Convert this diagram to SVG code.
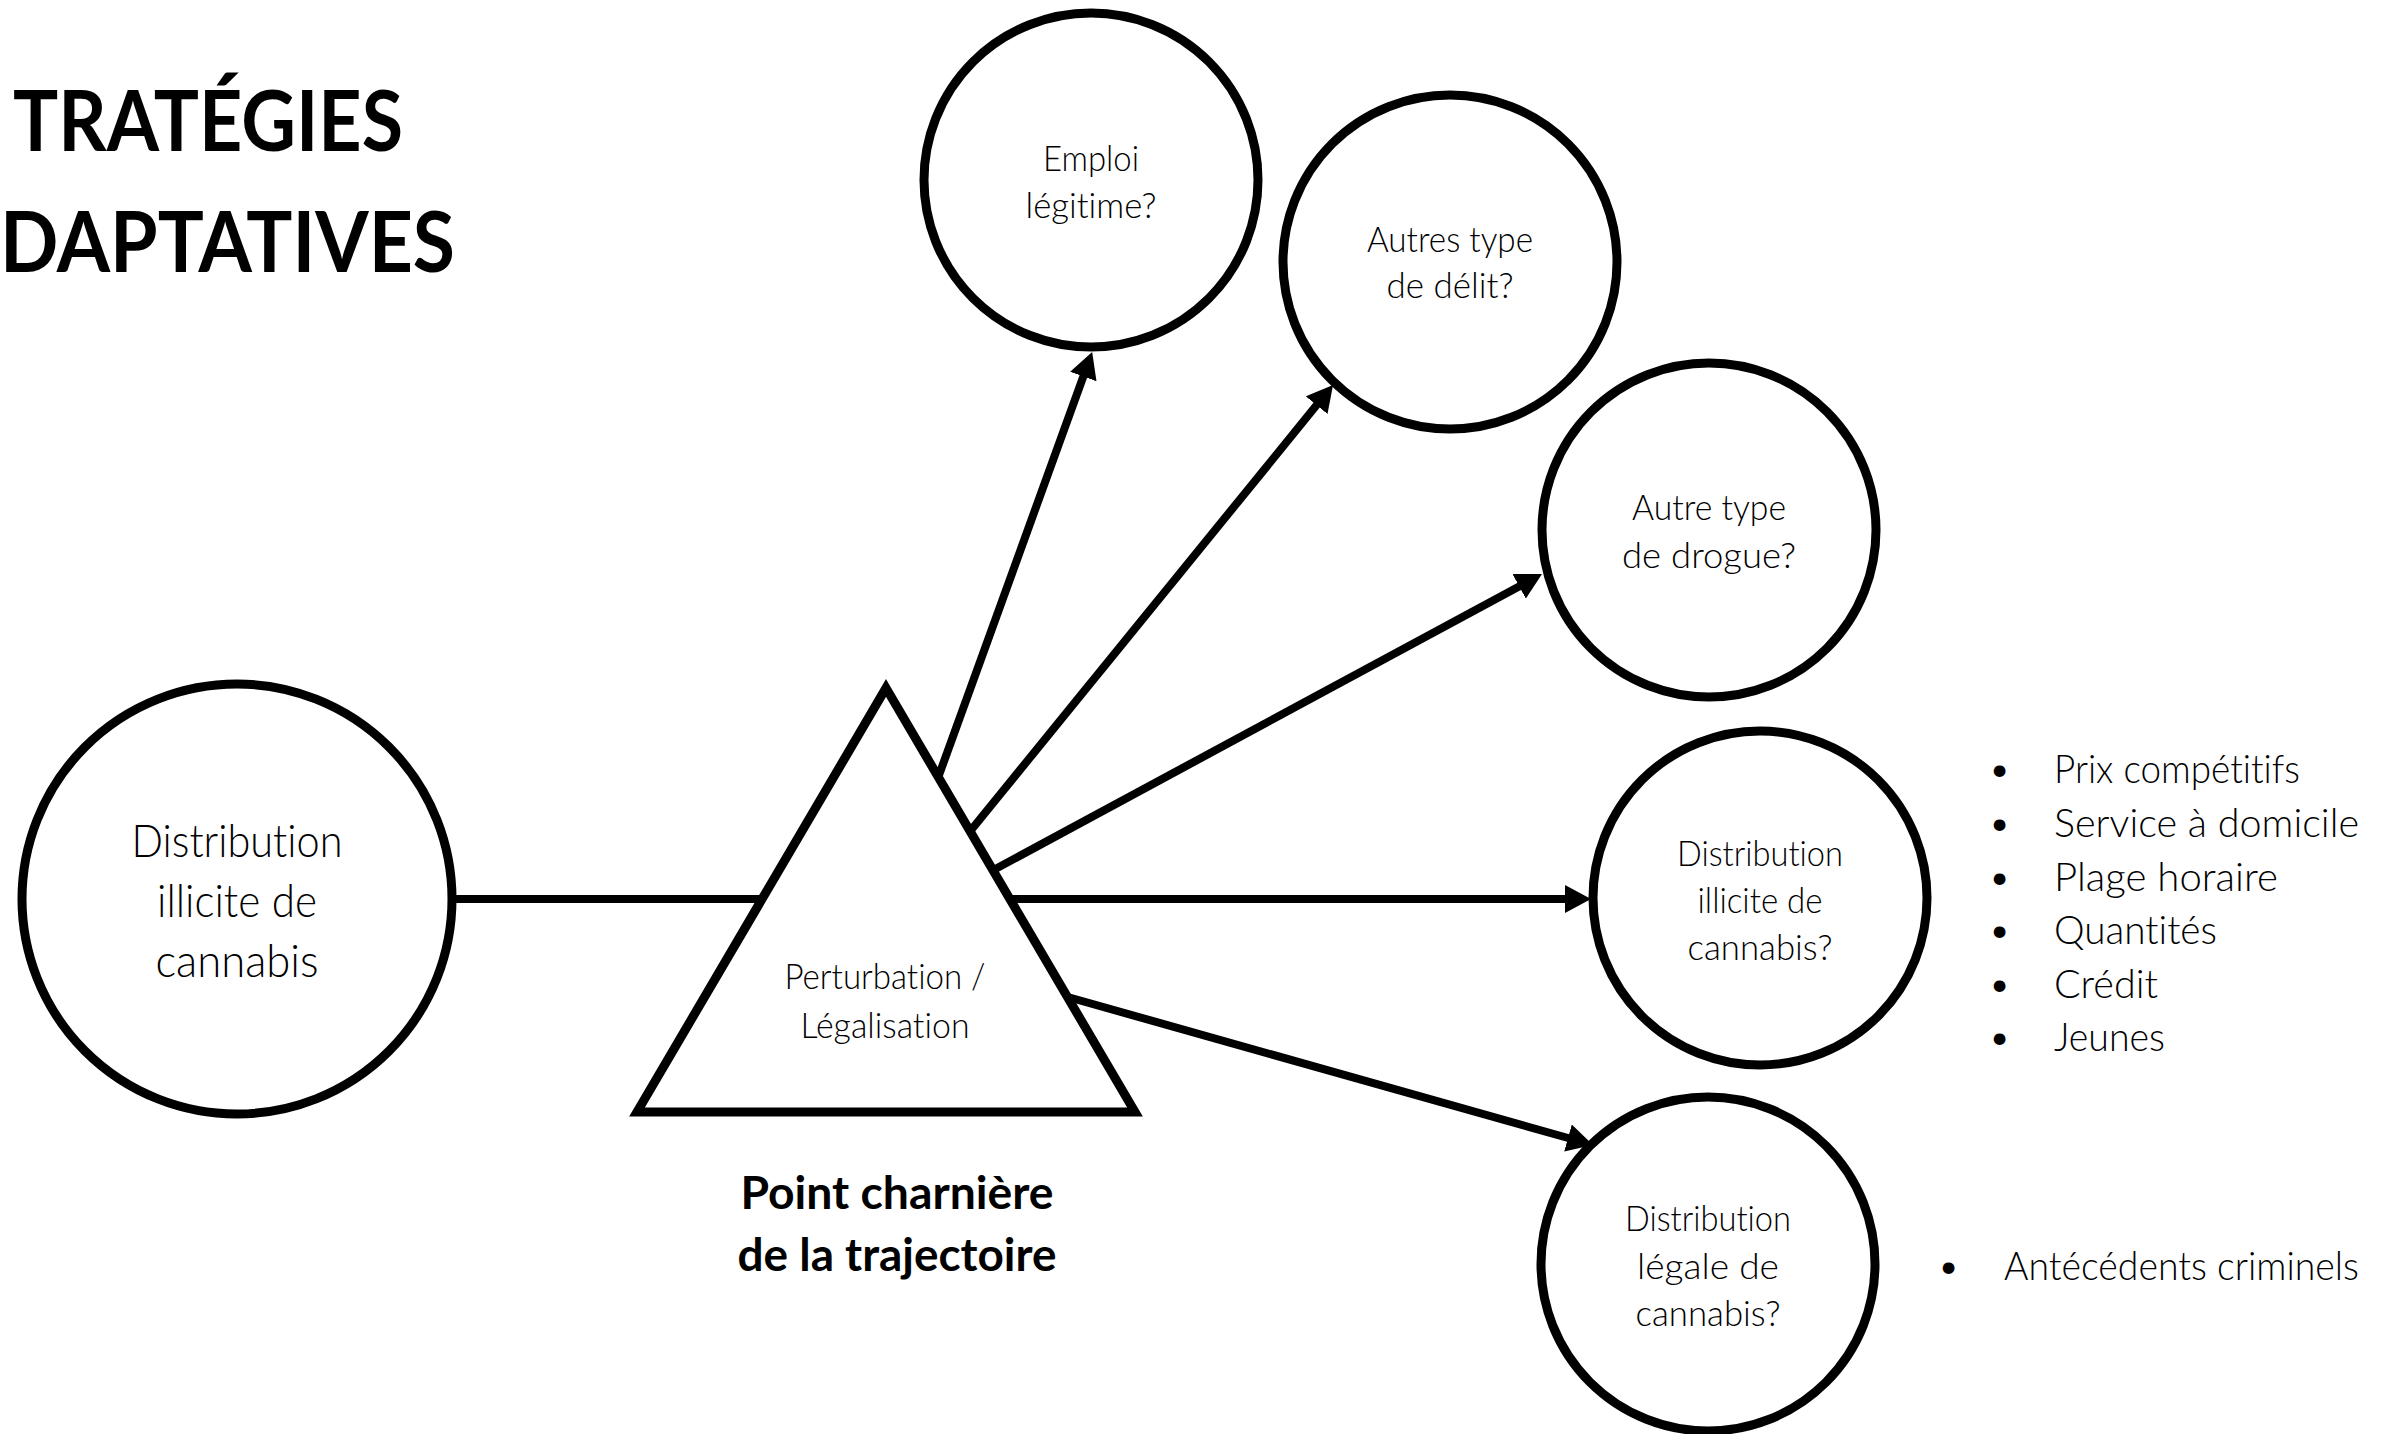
<svg xmlns="http://www.w3.org/2000/svg" width="2393" height="1434" viewBox="0 0 2393 1434">
<style>
.node{fill:#fff;stroke:#000;stroke-width:9}
.conn{stroke:#000;stroke-width:8;fill:none}
text{font-variant-ligatures:none}
.t{font-family:Lato,"Liberation Sans",sans-serif;font-weight:300;fill:#000;text-anchor:middle}
.c{font-size:36px}
.lc{font-size:46px}
.b{font-size:40px;text-anchor:start}
.h{font-family:Lato,"Liberation Sans",sans-serif;font-weight:700;fill:#000}
</style>
<defs>
<marker id="arr" markerUnits="userSpaceOnUse" markerWidth="26" markerHeight="28" refX="2" refY="14" orient="auto">
<path d="M0,0 L26,14 L0,28 z" fill="#000"/>
</marker>
</defs>
<rect width="2393" height="1434" fill="#fff"/>

<g id="title">
<text class="h" x="13" y="151" font-size="84" textLength="390" lengthAdjust="spacingAndGlyphs">TRATÉGIES</text>
<text class="h" x="0" y="272" font-size="84" textLength="455" lengthAdjust="spacingAndGlyphs">DAPTATIVES</text>
</g>

<g id="connectors">
<line class="conn" x1="430" y1="899" x2="790" y2="899"/>
<line class="conn" x1="930" y1="800" x2="1084" y2="374.6" marker-end="url(#arr)"/>
<line class="conn" x1="950" y1="856" x2="1317.9" y2="403.6" marker-end="url(#arr)"/>
<line class="conn" x1="975" y1="880" x2="1520.9" y2="585.4" marker-end="url(#arr)"/>
<line class="conn" x1="990" y1="899" x2="1567" y2="899" marker-end="url(#arr)"/>
<line class="conn" x1="1050" y1="992" x2="1569.9" y2="1138.5" marker-end="url(#arr)"/>
</g>

<g id="node-source">
<circle class="node" cx="237" cy="899" r="215"/>
<text class="t lc" x="237" y="857" textLength="211" lengthAdjust="spacingAndGlyphs">Distribution</text>
<text class="t lc" x="237" y="917" textLength="160" lengthAdjust="spacingAndGlyphs">illicite de</text>
<text class="t lc" x="237" y="977" textLength="163" lengthAdjust="spacingAndGlyphs">cannabis</text>
</g>

<g id="node-pivot">
<polygon class="node" points="886,688 1135,1112 637,1112" stroke-linejoin="miter"/>
<text class="t c" x="885" y="989" textLength="201" lengthAdjust="spacingAndGlyphs">Perturbation /</text>
<text class="t c" x="885" y="1038" textLength="169" lengthAdjust="spacingAndGlyphs">Légalisation</text>
</g>

<g id="pivot-label">
<text class="h" x="897" y="1209" font-size="46" text-anchor="middle" font-weight="600" textLength="313" lengthAdjust="spacingAndGlyphs">Point charnière</text>
<text class="h" x="897" y="1271" font-size="46" text-anchor="middle" font-weight="600" textLength="319" lengthAdjust="spacingAndGlyphs">de la trajectoire</text>
</g>

<g id="node-emploi">
<circle class="node" cx="1091" cy="180" r="167"/>
<text class="t c" x="1091" y="171" textLength="96" lengthAdjust="spacingAndGlyphs">Emploi</text>
<text class="t c" x="1091" y="218" textLength="131" lengthAdjust="spacingAndGlyphs">légitime?</text>
</g>

<g id="node-delit">
<circle class="node" cx="1450" cy="262" r="167"/>
<text class="t c" x="1450" y="252" textLength="166" lengthAdjust="spacingAndGlyphs">Autres type</text>
<text class="t c" x="1450" y="298" textLength="127" lengthAdjust="spacingAndGlyphs">de délit?</text>
</g>

<g id="node-drogue">
<circle class="node" cx="1709" cy="530" r="167"/>
<text class="t c" x="1709" y="520" textLength="154" lengthAdjust="spacingAndGlyphs">Autre type</text>
<text class="t c" x="1709" y="568" textLength="174" lengthAdjust="spacingAndGlyphs">de drogue?</text>
</g>

<g id="node-illicite">
<circle class="node" cx="1760" cy="898" r="167"/>
<text class="t c" x="1760" y="866" textLength="166" lengthAdjust="spacingAndGlyphs">Distribution</text>
<text class="t c" x="1760" y="913" textLength="125" lengthAdjust="spacingAndGlyphs">illicite de</text>
<text class="t c" x="1760" y="960" textLength="145" lengthAdjust="spacingAndGlyphs">cannabis?</text>
</g>

<g id="node-legale">
<circle class="node" cx="1708" cy="1264" r="167"/>
<text class="t c" x="1708" y="1231" textLength="166" lengthAdjust="spacingAndGlyphs">Distribution</text>
<text class="t c" x="1708" y="1279" textLength="142" lengthAdjust="spacingAndGlyphs">légale de</text>
<text class="t c" x="1708" y="1326" textLength="145" lengthAdjust="spacingAndGlyphs">cannabis?</text>
</g>

<g id="list-illicite">
<text class="t b" x="1988" y="783">•</text><text class="t b" x="2054" y="783" textLength="246" lengthAdjust="spacingAndGlyphs">Prix compétitifs</text>
<text class="t b" x="1988" y="837">•</text><text class="t b" x="2054" y="837" textLength="305" lengthAdjust="spacingAndGlyphs">Service à domicile</text>
<text class="t b" x="1988" y="891">•</text><text class="t b" x="2054" y="891" textLength="224" lengthAdjust="spacingAndGlyphs">Plage horaire</text>
<text class="t b" x="1988" y="944">•</text><text class="t b" x="2054" y="944" textLength="163" lengthAdjust="spacingAndGlyphs">Quantités</text>
<text class="t b" x="1988" y="998">•</text><text class="t b" x="2054" y="998" textLength="104" lengthAdjust="spacingAndGlyphs">Crédit</text>
<text class="t b" x="1988" y="1051">•</text><text class="t b" x="2054" y="1051" textLength="111" lengthAdjust="spacingAndGlyphs">Jeunes</text>
</g>

<g id="list-legale">
<text class="t b" x="1937" y="1280">•</text><text class="t b" x="2004" y="1280" textLength="355" lengthAdjust="spacingAndGlyphs">Antécédents criminels</text>
</g>
</svg>
